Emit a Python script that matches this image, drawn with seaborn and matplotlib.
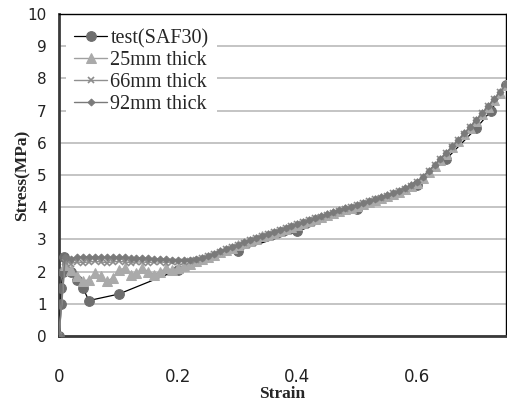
import matplotlib
matplotlib.use('Agg')
import matplotlib.pyplot as plt
import seaborn as sns
import pandas as pd

# strain grid shared by the three specimen curves
strain = [0.00, 0.01, 0.02, 0.03, 0.04, 0.05, 0.06, 0.07, 0.08, 0.09,
          0.10, 0.11, 0.12, 0.13, 0.14, 0.15, 0.16, 0.17, 0.18, 0.19,
          0.20, 0.21, 0.22, 0.23, 0.24, 0.25, 0.26, 0.27, 0.28, 0.29,
          0.30, 0.31, 0.32, 0.33, 0.34, 0.35, 0.36, 0.37, 0.38, 0.39,
          0.40, 0.41, 0.42, 0.43, 0.44, 0.45, 0.46, 0.47, 0.48, 0.49,
          0.50, 0.51, 0.52, 0.53, 0.54, 0.55, 0.56, 0.57, 0.58, 0.59,
          0.60, 0.61, 0.62, 0.63, 0.64, 0.65, 0.66, 0.67, 0.68, 0.69,
          0.70, 0.71, 0.72, 0.73, 0.74, 0.75]

stress_25 = [0.00, 2.20, 2.05, 1.85, 1.70, 1.75, 1.95, 1.85, 1.70, 1.80,
             2.05, 2.10, 1.90, 1.95, 2.10, 2.00, 1.90, 2.00, 2.10, 2.05,
             2.10, 2.18, 2.25, 2.32, 2.39, 2.46, 2.53, 2.60, 2.67, 2.74,
             2.81, 2.88, 2.95, 3.02, 3.09, 3.15, 3.21, 3.27, 3.33, 3.39,
             3.45, 3.51, 3.57, 3.63, 3.69, 3.75, 3.81, 3.87, 3.93, 3.99,
             4.04, 4.10, 4.16, 4.22, 4.28, 4.34, 4.41, 4.48, 4.56, 4.65,
             4.75, 4.92, 5.10, 5.28, 5.47, 5.66, 5.86, 6.06, 6.26, 6.47,
             6.68, 6.89, 7.11, 7.33, 7.56, 7.79]

stress_66 = [0.00, 2.30, 2.25, 2.30, 2.28, 2.30, 2.32, 2.30, 2.28, 2.30,
             2.32, 2.30, 2.28, 2.30, 2.30, 2.28, 2.30, 2.30, 2.28, 2.30,
             2.30, 2.31, 2.33, 2.37, 2.42, 2.48, 2.55, 2.62, 2.69, 2.76,
             2.83, 2.90, 2.97, 3.04, 3.11, 3.17, 3.23, 3.29, 3.35, 3.41,
             3.47, 3.53, 3.59, 3.65, 3.71, 3.77, 3.83, 3.89, 3.95, 4.01,
             4.06, 4.12, 4.18, 4.24, 4.30, 4.36, 4.43, 4.50, 4.58, 4.67,
             4.77, 4.94, 5.12, 5.30, 5.49, 5.68, 5.88, 6.08, 6.28, 6.49,
             6.70, 6.91, 7.13, 7.35, 7.58, 7.81]

stress_92 = [0.00, 2.45, 2.40, 2.45, 2.45, 2.46, 2.45, 2.45, 2.44, 2.45,
             2.45, 2.44, 2.43, 2.43, 2.42, 2.41, 2.40, 2.39, 2.38, 2.37,
             2.36, 2.36, 2.37, 2.39, 2.43, 2.49, 2.56, 2.63, 2.70, 2.77,
             2.84, 2.91, 2.98, 3.05, 3.12, 3.18, 3.24, 3.30, 3.36, 3.42,
             3.48, 3.54, 3.60, 3.66, 3.72, 3.78, 3.84, 3.90, 3.96, 4.02,
             4.07, 4.13, 4.19, 4.25, 4.31, 4.37, 4.44, 4.51, 4.59, 4.68,
             4.78, 4.95, 5.13, 5.31, 5.50, 5.69, 5.89, 6.09, 6.29, 6.50,
             6.71, 6.92, 7.14, 7.36, 7.59, 7.82]

test_strain = [0.000, 0.003, 0.004, 0.006, 0.008, 0.020, 0.030, 0.040, 0.050,
               0.100, 0.200, 0.300, 0.400, 0.500, 0.600, 0.650, 0.700, 0.725, 0.750]
test_stress = [0.00, 1.00, 1.50, 2.00, 2.45, 2.00, 1.75, 1.50, 1.10,
               1.30, 2.05, 2.65, 3.25, 3.95, 4.70, 5.50, 6.45, 7.00, 7.80]

yticks = [0, 1, 2, 3, 4, 5, 6, 7, 8, 9, 10]
xticks = [0, 0.2, 0.4, 0.6]

sns.set_style('white')
plt.rcParams['font.family'] = ['DejaVu Sans']

fig = plt.figure(figsize=(5.07, 4.03), dpi=100)
ax = fig.add_axes([0.1164, 0.1663, 0.8817, 0.799])

df_test = pd.DataFrame({'x': test_strain, 'y': test_stress})
sns.lineplot(data=df_test, x='x', y='y', ax=ax, color='black', lw=0.9,
             marker='o', markersize=7, markerfacecolor='#6e6e6e',
             markeredgecolor='#6e6e6e', label='test(SAF30)', zorder=3)

df25 = pd.DataFrame({'x': strain, 'y': stress_25})
sns.lineplot(data=df25, x='x', y='y', ax=ax, color='#a0a0a0', lw=1.0,
             marker='^', markersize=7, markerfacecolor='#aaaaaa',
             markeredgecolor='#aaaaaa', label='25mm thick', zorder=4)

df66 = pd.DataFrame({'x': strain, 'y': stress_66})
sns.lineplot(data=df66, x='x', y='y', ax=ax, color='#909090', lw=1.0,
             marker='x', markersize=5, markeredgewidth=1.2,
             markeredgecolor='#8c8c8c', label='66mm thick', zorder=5)

df92 = pd.DataFrame({'x': strain, 'y': stress_92})
sns.lineplot(data=df92, x='x', y='y', ax=ax, color='#7a7a7a', lw=1.0,
             marker='D', markersize=3.5, markerfacecolor='#7a7a7a',
             markeredgecolor='#7a7a7a', label='92mm thick', zorder=6)

ax.set_xlim(0, 0.75)
ax.set_ylim(0, 10)
ax.set_xticks(xticks)
ax.set_xticklabels(['0', '0.2', '0.4', '0.6'])
ax.set_yticks(yticks)
ax.tick_params(axis='x', direction='out', length=5, color='#909090',
               labelsize=12, pad=18, labelcolor='#222222')
ax.tick_params(axis='y', direction='out', length=5, color='#909090',
               labelsize=11, pad=4, labelcolor='#222222')
ax.grid(True, axis='y', color='#b4b4b4', lw=1.1)
ax.set_axisbelow(True)

for side in ['left', 'bottom']:
    ax.spines[side].set_color('#3a3a3a')
    ax.spines[side].set_linewidth(2.0)
for side in ['top', 'right']:
    ax.spines[side].set_color('black')
    ax.spines[side].set_linewidth(1.0)

ax.set_xlabel('Strain', family='Liberation Serif', fontweight='bold',
              fontsize=12.5, labelpad=0)
ax.set_ylabel('Stress(MPa)', family='Liberation Serif', fontweight='bold',
              fontsize=12.5, labelpad=-2)

leg = ax.legend(loc='upper left', frameon=True, facecolor='white',
                edgecolor='none', framealpha=1, borderaxespad=0.35,
                handlelength=1.65, handletextpad=0.15, labelspacing=0.14,
                prop={'family': 'Liberation Serif', 'size': 14.5})

fig.savefig('out.png', dpi=100)
